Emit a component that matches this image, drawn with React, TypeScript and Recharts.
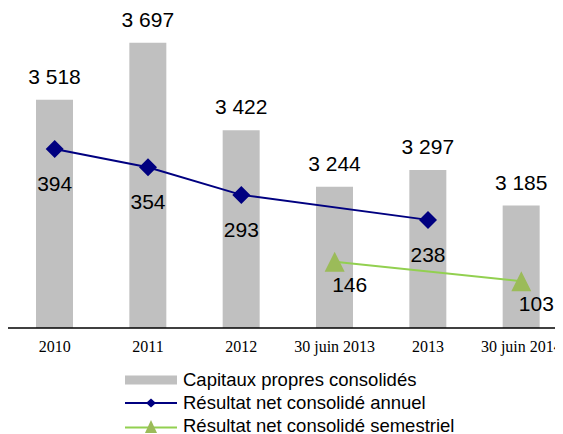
import {
  ComposedChart,
  Bar,
  Line,
  XAxis,
  YAxis,
  Legend,
  LabelList,
} from 'recharts'

const categories = ['2010', '2011', '2012', '30 juin 2013', '2013', '30 juin 2014']
const capitauxPropres = [3518, 3697, 3422, 3244, 3297, 3185]
const resultatAnnuel = [394, 354, 293, null, 238, null]
const resultatSemestriel = [null, null, null, 146, null, 103]

const NAVY = '#000080'
const GREEN_LINE = '#92D050'
const GREEN_MARK = '#9BBB59'
const GREY = '#C0C0C0'
const SANS = '"Liberation Sans", Arial, sans-serif'

const data = categories.map((c, i) => ({
  name: c,
  capitaux: capitauxPropres[i],
  annuel: resultatAnnuel[i],
  semestriel: resultatSemestriel[i],
}))

function formatThousands(v: number): string {
  const s = String(v)
  return s.length > 3 ? `${s.slice(0, s.length - 3)} ${s.slice(-3)}` : s
}

function Diamond(props: any) {
  const { cx, cy, value } = props
  if (value == null || cx == null || cy == null) return null
  return (
    <path
      d={`M${cx},${cy - 9} L${cx + 9},${cy} L${cx},${cy + 9} L${cx - 9},${cy} Z`}
      fill={NAVY}
    />
  )
}

function Triangle(props: any) {
  const { cx, cy, value } = props
  if (value == null || cx == null || cy == null) return null
  return (
    <path
      d={`M${cx},${cy - 10} L${cx + 10},${cy + 10} L${cx - 10},${cy + 10} Z`}
      fill={GREEN_MARK}
    />
  )
}

function barLabel(props: any) {
  const { x, y, width, value } = props
  if (value == null) return null
  return (
    <text x={x + width / 2} y={y - 16} textAnchor="middle" fontSize={21} fontFamily={SANS} fill="#000">
      {formatThousands(Number(value))}
    </text>
  )
}

function annualLabel(props: any) {
  const { x, y, value } = props
  if (value == null) return null
  return (
    <text x={x} y={y + 42} textAnchor="middle" fontSize={21} fontFamily={SANS} fill="#000">
      {value}
    </text>
  )
}

function semesterLabel(props: any) {
  const { x, y, value } = props
  if (value == null) return null
  return (
    <text x={x + 15} y={y + 30} textAnchor="middle" fontSize={21} fontFamily={SANS} fill="#000">
      {value}
    </text>
  )
}

function LegendBox() {
  const row = { display: 'flex', alignItems: 'center', height: 23.2 }
  const txt = {
    marginLeft: 6,
    fontSize: 18.5,
    lineHeight: 0.7,
    fontFamily: SANS,
    color: '#000',
    whiteSpace: 'nowrap' as const,
  }
  return (
    <div style={{ height: 80, paddingTop: 0.5, boxSizing: 'border-box' as const }}>
      <div style={row}>
        <svg width={52} height={16}>
          <rect x={0} y={3.5} width={52} height={9} fill={GREY} />
        </svg>
        <span style={txt}>Capitaux propres consolidés</span>
      </div>
      <div style={row}>
        <svg width={52} height={18}>
          <line x1={0} y1={9} x2={52} y2={9} stroke={NAVY} strokeWidth={2} />
          <path d="M26,4.5 L31,9 L26,13.5 L21,9 Z" fill={NAVY} />
        </svg>
        <span style={txt}>Résultat net consolidé annuel</span>
      </div>
      <div style={row}>
        <svg width={52} height={18}>
          <line x1={0} y1={10.5} x2={52} y2={10.5} stroke={GREEN_LINE} strokeWidth={2} />
          <path d="M26,3 L32,16 L20,16 Z" fill={GREEN_MARK} />
        </svg>
        <span style={txt}>Résultat net consolidé semestriel</span>
      </div>
    </div>
  )
}

export default function App() {
  return (
    <div style={{ width: 555, height: 426, overflow: 'hidden' }}>
      <style>{'html, body { overflow: hidden; }'}</style>
      <ComposedChart
        width={560}
        height={440}
        data={data}
        margin={{ top: 2, right: 0, bottom: 0, left: 0 }}
      >
        <XAxis
          dataKey="name"
          tickLine={false}
          tickSize={0}
          tickMargin={13}
          axisLine={{ stroke: '#000', strokeWidth: 1.5 }}
          tick={{ fontSize: 16, fontFamily: '"Liberation Serif", "Times New Roman", serif', fill: '#000' }}
          height={40}
          interval={0}
        />
        <YAxis yAxisId="left" domain={[2800, 3800]} hide />
        <YAxis yAxisId="right" orientation="right" domain={[0, 700]} hide />
        <Legend
          verticalAlign="bottom"
          align="left"
          wrapperStyle={{ left: 117 }}
          content={() => <LegendBox />}
        />
        <Bar yAxisId="left" dataKey="capitaux" fill={GREY} barSize={37} isAnimationActive={false}>
          <LabelList dataKey="capitaux" content={barLabel} />
        </Bar>
        <Line
          yAxisId="right"
          dataKey="annuel"
          stroke={NAVY}
          strokeWidth={2}
          connectNulls
          dot={<Diamond />}
          activeDot={false}
          isAnimationActive={false}
        >
          <LabelList dataKey="annuel" content={annualLabel} />
        </Line>
        <Line
          yAxisId="right"
          dataKey="semestriel"
          stroke={GREEN_LINE}
          strokeWidth={2}
          connectNulls
          dot={<Triangle />}
          activeDot={false}
          isAnimationActive={false}
        >
          <LabelList dataKey="semestriel" content={semesterLabel} />
        </Line>
      </ComposedChart>
    </div>
  )
}
